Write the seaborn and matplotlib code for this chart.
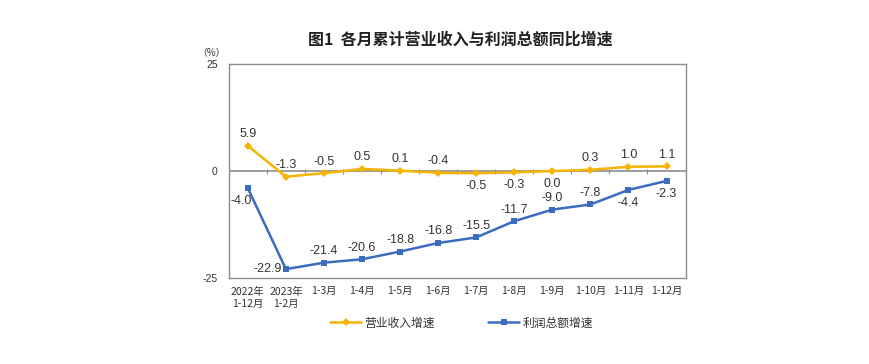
import numpy as np
import pandas as pd
import matplotlib
matplotlib.use("Agg")
import matplotlib.pyplot as plt
import seaborn as sns

# ── Data ───────────────────────────────────────────────────
months = ["2022年\n1-12月", "2023年\n1-2月", "1-3月", "1-4月", "1-5月", "1-6月",
          "1-7月", "1-8月", "1-9月", "1-10月", "1-11月", "1-12月"]
revenue = [5.9, -1.3, -0.5, 0.5, 0.1, -0.4, -0.5, -0.3, 0.0, 0.3, 1.0, 1.1]
profit = [-4.0, -22.9, -21.4, -20.6, -18.8, -16.8, -15.5, -11.7, -9.0, -7.8, -4.4, -2.3]
# label placement: 'a' above, 'b' below, 'l' left, 'bl' below-left
rev_pos = ["a", "a", "a", "a", "a", "a", "b", "b", "b", "a", "a", "a"]
pro_pos = ["bl", "l", "a", "a", "a", "a", "a", "a", "a", "a", "b", "b"]

# ── Style ──────────────────────────────────────────────────
sns.set_theme(style="white")
plt.rcParams['font.family'] = ['Noto Sans CJK SC', 'DejaVu Sans']
YELLOW = "#F4B400"
BLUE = "#3B6CC0"
FRAME = "#8C8C8C"
TXT = "#333333"
NUMFONT = ['Liberation Sans', 'DejaVu Sans']

df = pd.DataFrame({"x": np.arange(len(months)), "rev": revenue, "pro": profit})

fig = plt.figure(figsize=(8.7, 3.64), dpi=100)
ax = fig.add_axes([0.263, 0.236, 0.525, 0.588])

sns.lineplot(data=df, x="x", y="rev", ax=ax, color=YELLOW, linewidth=1.8,
             marker="D", markersize=4, markeredgewidth=0, label="营业收入增速")
sns.lineplot(data=df, x="x", y="pro", ax=ax, color=BLUE, linewidth=1.8,
             marker="s", markersize=4, markeredgewidth=0, label="利润总额增速")

ax.set_xlim(-0.5, len(months) - 0.5)
ax.set_ylim(-25, 25)
ax.set_yticks([-25, 0, 25])
ax.set_yticklabels(["-25", "0", "25"], fontsize=7.5, color=TXT, family=NUMFONT)
ax.set_xticks(df["x"])
ax.set_xticklabels(months, fontsize=7.5, color=TXT, linespacing=1.35)
ax.tick_params(axis="y", length=0, pad=8)
ax.tick_params(axis="x", length=0, pad=6)
ax.set_xlabel("")
ax.set_ylabel("")

for s in ax.spines.values():
    s.set_color(FRAME)
    s.set_linewidth(1)

# zero line with category ticks
ax.axhline(0, color=FRAME, linewidth=1.2, zorder=1)
bounds = np.arange(0.5, len(months) - 0.5)
ax.vlines(bounds, -0.6, 0.6, color=FRAME, linewidth=0.8, zorder=1)

offsets = {"a": (0, 4, "center", "bottom"), "b": (0, -5, "center", "top"),
           "l": (-3, 0, "right", "center"), "bl": (-5, -5, "center", "top")}
for vals, poss in [(revenue, rev_pos), (profit, pro_pos)]:
    for x, v, p in zip(df["x"], vals, poss):
        dx, dy, ha, va = offsets[p]
        ax.annotate(f"{v:.1f}", (x, v), xytext=(dx, dy), textcoords="offset points",
                    ha=ha, va=va, fontsize=9, color=TXT, family=NUMFONT)

ax.legend(loc="upper center", bbox_to_anchor=(0.51, -0.13), ncol=2, frameon=False,
          fontsize=8.5, handlelength=2.6, handletextpad=0.3, columnspacing=4.5,
          labelcolor=TXT)

fig.text(0.529, 0.89, "图1  各月累计营业收入与利润总额同比增速", ha="center", va="center",
         fontsize=11.5, fontweight="bold", color="#222222")
fig.text(0.243, 0.853, "（%）", ha="center", va="center", fontsize=7, color=TXT)

fig.savefig("out.png", dpi=100, facecolor="white")
